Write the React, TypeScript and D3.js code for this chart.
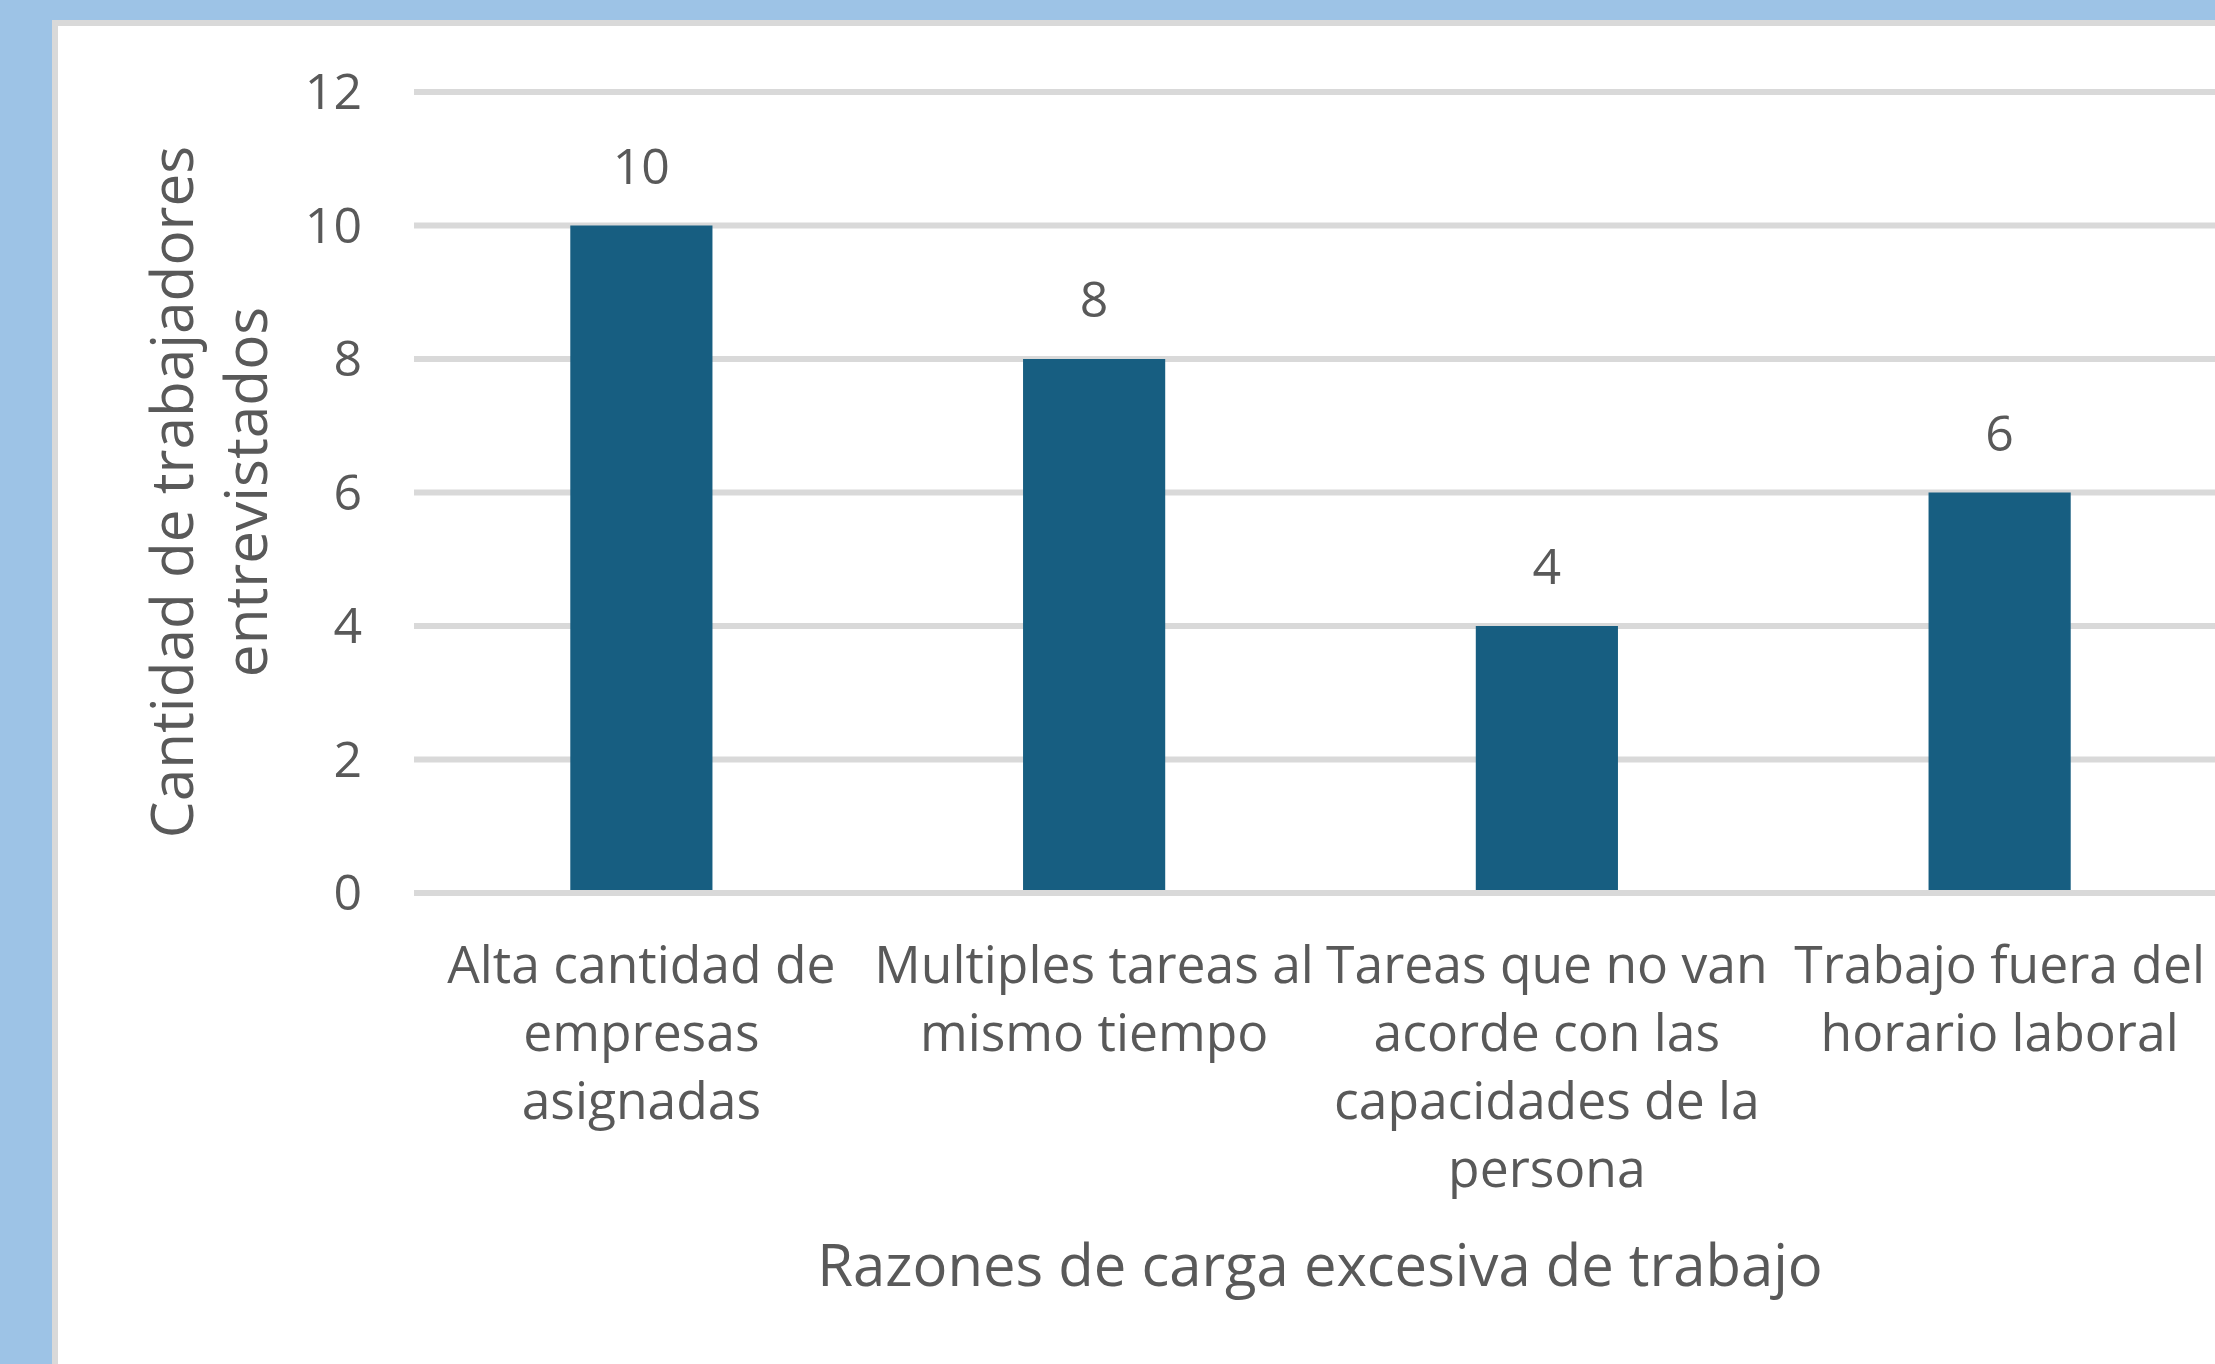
import React from "react";
import * as d3 from "d3";

const categoryLines: string[][] = [
  ["Alta cantidad de", "empresas", "asignadas"],
  ["Multiples tareas al", "mismo tiempo"],
  ["Tareas que no van", "acorde con las", "capacidades de la", "persona"],
  ["Trabajo fuera del", "horario laboral"],
];
const categories: string[] = categoryLines.map((l) => l.join(" "));
const values: number[] = [10, 8, 4, 6];
const yTicks: number[] = [0, 2, 4, 6, 8, 10, 12];
const yTitleLines: string[] = ["Cantidad de trabajadores", "entrevistados"];
const xTitle = "Razones de carga excesiva de trabajo";

const W = 2215;
const H = 1364;
const FONT = "'Open Sans', 'Liberation Sans', sans-serif";
const TEXT = "#595959";
const GRID = "#D9D9D9";
const BAR = "#175E81";
const BG = "#9DC3E6";

export default function App() {
  const x = d3
    .scaleBand<string>()
    .domain(categories)
    .range([415, 2226])
    .paddingInner(0.686)
    .paddingOuter(0.343);
  const y = d3.scaleLinear().domain([0, 12]).range([893, 92]);
  const gridX0 = 414;
  const gridX1 = 2226;

  return (
    <svg
      width={W}
      height={H}
      style={{ position: "absolute", left: 0, top: 0, display: "block" }}
      fontFamily={FONT}
    >
      <rect x={0} y={0} width={W} height={H} fill={BG} />
      <rect x={52} y={20} width={W - 52} height={H - 20} fill={GRID} />
      <rect x={58} y={26} width={W - 58} height={H - 26} fill="#FFFFFF" />

      {yTicks
        .filter((t) => t !== 0)
        .map((t) => (
          <line
            key={"g" + t}
            x1={gridX0}
            x2={gridX1}
            y1={y(t)}
            y2={y(t)}
            stroke={GRID}
            strokeWidth={6}
          />
        ))}

      {categories.map((c, i) => (
        <rect
          key={"b" + i}
          x={x(c)}
          y={y(values[i])}
          width={x.bandwidth()}
          height={y(0) - y(values[i])}
          fill={BAR}
        />
      ))}

      <line x1={gridX0} x2={gridX1} y1={y(0)} y2={y(0)} stroke={GRID} strokeWidth={6} />

      {yTicks.map((t) => (
        <text
          key={"t" + t}
          x={362}
          y={y(t) + 17}
          textAnchor="end"
          fontSize={50}
          fill={TEXT}
        >
          {t}
        </text>
      ))}

      {categories.map((c, i) => (
        <text
          key={"v" + i}
          x={(x(c) as number) + x.bandwidth() / 2}
          y={y(values[i]) - 42}
          textAnchor="middle"
          fontSize={50}
          fill={TEXT}
        >
          {values[i]}
        </text>
      ))}

      {categories.map((c, i) => (
        <text
          key={"c" + i}
          x={(x(c) as number) + x.bandwidth() / 2}
          y={983}
          textAnchor="middle"
          fontSize={51.6}
          fill={TEXT}
        >
          {categoryLines[i].map((line, j) => (
            <tspan key={j} x={(x(c) as number) + x.bandwidth() / 2} y={983 + j * 68}>
              {line}
            </tspan>
          ))}
        </text>
      ))}

      <text
        x={(gridX0 + gridX1) / 2}
        y={1286}
        textAnchor="middle"
        fontSize={58}
        fill={TEXT}
      >
        {xTitle}
      </text>

      {yTitleLines.map((line, j) => (
        <text
          key={"yt" + j}
          transform={`translate(${193 + j * 74},492) rotate(-90)`}
          textAnchor="middle"
          fontSize={58.5}
          fill={TEXT}
        >
          {line}
        </text>
      ))}
    </svg>
  );
}
